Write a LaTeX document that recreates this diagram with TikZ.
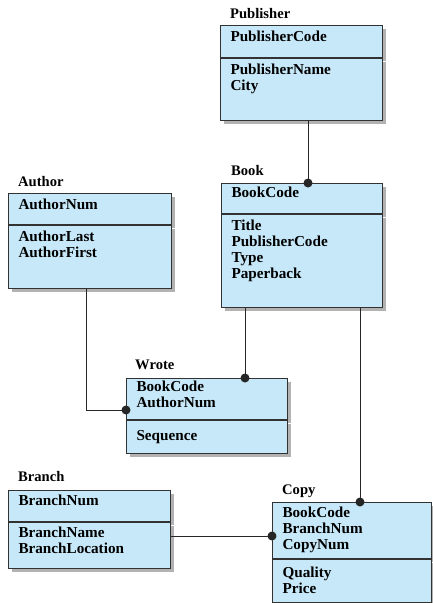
\documentclass[tikz,border=0pt]{standalone}
\usepackage{fontspec}
\setmainfont{Liberation Serif}
\usetikzlibrary{positioning,shadows}
\definecolor{boxfill}{RGB}{199,232,248}
\definecolor{boxline}{RGB}{50,50,50}
\tikzset{
	part/.style={draw=boxline, fill=boxfill, line width=1pt, anchor=north west,
		align=left, inner xsep=10pt, inner ysep=0pt,
		font=\fontsize{15.2}{16}\selectfont\bfseries,
		drop shadow={shadow xshift=3pt, shadow yshift=-3pt, fill=black, opacity=0.3}},
	lower/.style={part, anchor=north},
	title/.style={anchor=base west, inner sep=0pt, font=\fontsize{14.6}{16}\selectfont\bfseries},
	link/.style={draw=black!85, line width=0.9pt},
	dot/.style={circle, fill=black!85, inner sep=0pt, minimum size=9pt}
}
\begin{document}
\begin{tikzpicture}[x=1pt, y=-1pt]
	\useasboundingbox (0,0) rectangle (433,603);
	% Publisher
	\node[part, text width=142pt, text height=16pt, text depth=16pt] (pubkey) at (220,25) {PublisherCode};
	\node[lower, text width=142pt, text height=16pt, text depth=46pt, below=0pt of pubkey] (pubattr) {PublisherName\\City};
	\node[title] (pubname) at (230,18) {Publisher};
	% Book
	\node[part, text width=141pt, text height=14pt, text depth=16pt] (bookkey) at (221,183) {BookCode};
	\node[lower, text width=141pt, text height=16pt, text depth=77pt, below=0pt of bookkey] (bookattr) {Title\\PublisherCode\\Type\\Paperback};
	\node[title] (bookname) at (231,175) {Book};
	% Author
	\node[part, text width=143pt, text height=16pt, text depth=15pt] (authkey) at (8,193) {AuthorNum};
	\node[lower, text width=143pt, text height=16pt, text depth=47pt, below=0pt of authkey] (authattr) {AuthorLast\\AuthorFirst};
	\node[title] (authname) at (18,186) {Author};
	% Wrote
	\node[part, text width=141pt, text height=13pt, text depth=28pt] (wrotekey) at (126,378) {BookCode\\AuthorNum};
	\node[lower, text width=141pt, text height=20pt, text depth=13pt, below=0pt of wrotekey] (wroteattr) {Sequence};
	\node[title] (wrotename) at (135,369) {Wrote};
	% Branch
	\node[part, text width=142pt, text height=15pt, text depth=16pt] (brkey) at (8,490) {BranchNum};
	\node[lower, text width=142pt, text height=15pt, text depth=31pt, below=0pt of brkey] (brattr) {BranchName\\BranchLocation};
	\node[title] (brname) at (18,481) {Branch};
	% Copy
	\node[part, text width=139pt, text height=15pt, text depth=41pt] (copykey) at (272,502) {BookCode\\BranchNum\\CopyNum};
	\node[lower, text width=139pt, text height=18pt, text depth=25pt, below=0pt of copykey] (copyattr) {Quality\\Price};
	\node[title] (copyname) at (282,494) {Copy};
	% links
	\coordinate (pubx) at (308,0);
	\coordinate (authx) at (86,0);
	\coordinate (wrotex) at (245,0);
	\coordinate (copyx) at (360,0);
	\coordinate (wrotey) at (0,410);
	\coordinate (bry) at (0,536);
	\draw[link] (pubattr.south -| pubx) -- (bookkey.north -| pubx) node[dot] {};
	\draw[link] (bookattr.south -| wrotex) -- (wrotekey.north -| wrotex) node[dot] {};
	\draw[link] (bookattr.south -| copyx) -- (copykey.north -| copyx) node[dot] {};
	\draw[link] (authattr.south -| authx) |- (wrotekey.west |- wrotey) node[dot] {};
	\draw[link] (brattr.east |- bry) -- (copykey.west |- bry) node[dot] {};
\end{tikzpicture}
\end{document}
